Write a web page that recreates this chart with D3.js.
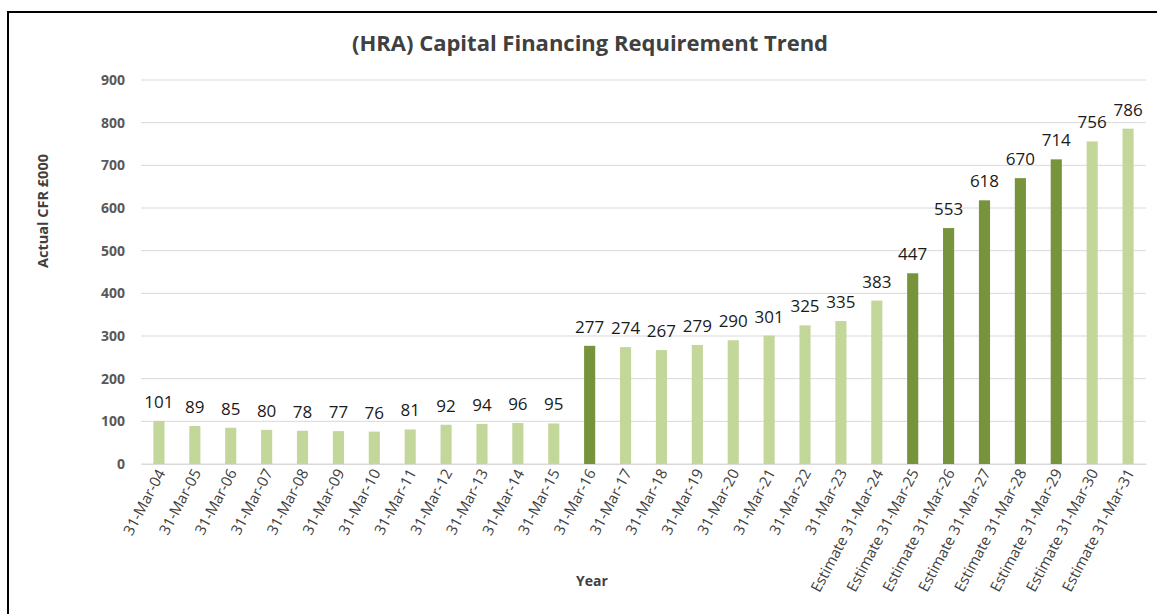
<!DOCTYPE html>
<html>
<head>
<meta charset="utf-8">
<script src="https://cdn.jsdelivr.net/npm/d3@7"></script>
<style>
  body { margin: 0; background: #fff; }
  svg { display: block; }
</style>
</head>
<body>
<div id="chart"></div>
<script>
const categories = [
    '31-Mar-04', '31-Mar-05', '31-Mar-06', '31-Mar-07', '31-Mar-08', '31-Mar-09', '31-Mar-10',
    '31-Mar-11', '31-Mar-12', '31-Mar-13', '31-Mar-14', '31-Mar-15', '31-Mar-16', '31-Mar-17',
    '31-Mar-18', '31-Mar-19', '31-Mar-20', '31-Mar-21', '31-Mar-22', '31-Mar-23',
    'Estimate 31-Mar-24', 'Estimate 31-Mar-25', 'Estimate 31-Mar-26', 'Estimate 31-Mar-27',
    'Estimate 31-Mar-28', 'Estimate 31-Mar-29', 'Estimate 31-Mar-30', 'Estimate 31-Mar-31'
]
const values = [101, 89, 85, 80, 78, 77, 76, 81, 92, 94, 96, 95, 277, 274, 267, 279, 290, 301, 325, 335, 383, 447, 553, 618, 670, 714, 756, 786]
// bars drawn in the darker green
const highlighted = ['31-Mar-16', 'Estimate 31-Mar-25', 'Estimate 31-Mar-26', 'Estimate 31-Mar-27', 'Estimate 31-Mar-28', 'Estimate 31-Mar-29']
const yTicks = [0, 100, 200, 300, 400, 500, 600, 700, 800, 900]

const data = categories.map((c, i) => ({cause: c, count: values[i]}))

const width = 1157, height = 614
const margin = {top: 80, right: 11, bottom: 150, left: 141}
const font = "'Open Sans', 'Noto Sans', sans-serif"

const svg = d3.select('#chart').append('svg')
    .attr('width', width)
    .attr('height', height)

// outer frame (cropped on the right and bottom)
svg.append('path')
    .attr('d', `M8,${height + 2} L8,12 L${width + 2},12`)
    .attr('fill', 'none')
    .attr('stroke', '#000')
    .attr('stroke-width', 2)

const x = d3.scaleBand()
    .domain(categories)
    .range([margin.left, width - margin.right])
    .paddingInner(0.69)
    .paddingOuter(0.345)

const y = d3.scaleLinear()
    .domain([0, 900])
    .range([height - margin.bottom, margin.top])

// gridlines
svg.append('g')
    .selectAll('line')
    .data(yTicks)
    .enter()
    .append('line')
    .attr('x1', margin.left)
    .attr('x2', width - margin.right)
    .attr('y1', d => y(d))
    .attr('y2', d => y(d))
    .attr('stroke', '#d9d9d9')
    .attr('stroke-width', 1)

// y axis labels
const yAxis = d3.axisLeft(y).tickValues(yTicks).tickSize(0).tickPadding(16)
svg.append('g')
    .attr('transform', `translate(${margin.left},0)`)
    .call(yAxis)
    .call(g => g.select('.domain').remove())
    .selectAll('text')
    .attr('font-family', font)
    .attr('font-size', 14)
    .attr('font-weight', 'bold')
    .attr('fill', '#595959')

// bars
svg.append('g')
    .selectAll('.bar')
    .data(data)
    .enter()
    .append('rect')
    .classed('bar', true)
    .attr('x', d => x(d.cause))
    .attr('y', d => y(d.count))
    .attr('width', x.bandwidth())
    .attr('height', d => y(0) - y(d.count))
    .attr('fill', d => highlighted.includes(d.cause) ? '#77933c' : '#c4d79b')

// data labels
svg.append('g')
    .selectAll('.data-label')
    .data(data)
    .enter()
    .append('text')
    .attr('x', d => x(d.cause) + x.bandwidth() / 2)
    .attr('y', d => y(d.count) - 13)
    .attr('text-anchor', 'middle')
    .attr('font-family', font)
    .attr('font-size', 17)
    .attr('fill', '#1a1a1a')
    .text(d => d.count)

// x axis
const xAxis = d3.axisBottom(x).tickSize(0).tickPadding(8)
svg.append('g')
    .attr('transform', `translate(0,${y(0)})`)
    .call(xAxis)
    .call(g => g.select('.domain').attr('stroke', '#d9d9d9'))
    .selectAll('text')
    .attr('font-family', font)
    .attr('font-size', 15)
    .attr('fill', '#404040')
    .attr('text-anchor', 'end')
    .attr('dx', '-0.5em')
    .attr('dy', '0.6em')
    .attr('transform', 'rotate(-62)')
    .style('transform-box', 'fill-box')
    .style('transform-origin', 'right top')

// title
svg.append('text')
    .attr('x', 590)
    .attr('y', 51)
    .attr('text-anchor', 'middle')
    .attr('font-family', font)
    .attr('font-size', 22)
    .attr('font-weight', 'bold')
    .attr('fill', '#404040')
    .text('(HRA) Capital Financing Requirement Trend')

// axis titles
svg.append('text')
    .attr('x', 592)
    .attr('y', 586)
    .attr('text-anchor', 'middle')
    .attr('font-family', font)
    .attr('font-size', 14)
    .attr('font-weight', 'bold')
    .attr('fill', '#404040')
    .text('Year')

svg.append('text')
    .attr('transform', 'translate(48,211) rotate(-90)')
    .attr('text-anchor', 'middle')
    .attr('font-family', font)
    .attr('font-size', 14.5)
    .attr('font-weight', 'bold')
    .attr('fill', '#404040')
    .text('Actual CFR £000')
</script>
</body>
</html>
